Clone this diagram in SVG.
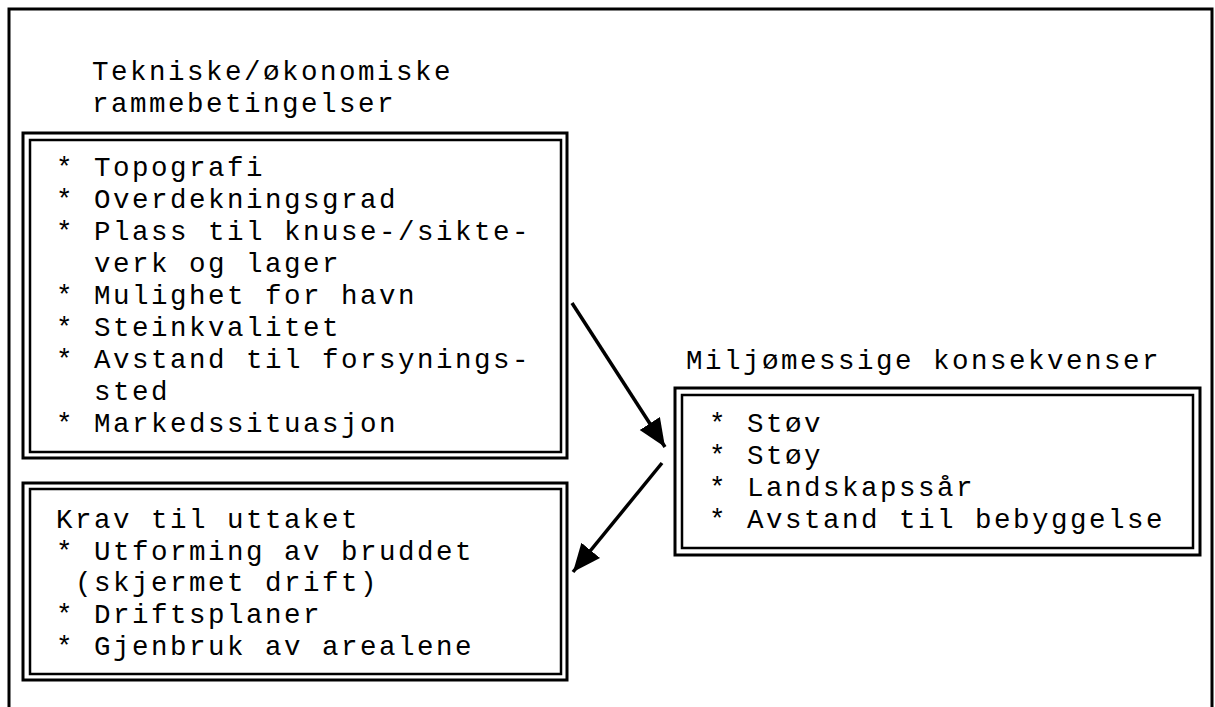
<svg xmlns="http://www.w3.org/2000/svg" width="1215" height="707" viewBox="0 0 1215 707">
<style>
  .t { font-family: "Liberation Mono", "Courier New", monospace; font-size: 27.5px; letter-spacing: 2.5px; fill: #000; }
  .o { fill: none; stroke: #000; stroke-width: 3; }
  .i { fill: none; stroke: #000; stroke-width: 2.5; }
  .c { fill: none; stroke: #000; stroke-width: 3.5; }
</style>
<defs>
  <marker id="ah" markerUnits="userSpaceOnUse" markerWidth="30" markerHeight="26" refX="28" refY="12" orient="auto">
    <path d="M0,0 L28,12 L0,24 Z" fill="#000"/>
  </marker>
</defs>
<rect width="1215" height="707" fill="#fff"/>
<path class="o" d="M9,707 V9 H1212 V707"/>

<g id="title-tek">
  <text class="t" x="92" y="80">Tekniske/økonomiske</text>
  <text class="t" x="92" y="112">rammebetingelser</text>
</g>

<g id="box-tek">
  <rect class="o" x="23" y="133" width="544" height="325"/>
  <rect class="i" x="30" y="140" width="531" height="312"/>
  <text class="t" x="56" y="176">* Topografi</text>
  <text class="t" x="56" y="208">* Overdekningsgrad</text>
  <text class="t" x="56" y="240">* Plass til knuse-/sikte-</text>
  <text class="t" x="94" y="272">verk og lager</text>
  <text class="t" x="56" y="304">* Mulighet for havn</text>
  <text class="t" x="56" y="336">* Steinkvalitet</text>
  <text class="t" x="56" y="368">* Avstand til forsynings-</text>
  <text class="t" x="94" y="400">sted</text>
  <text class="t" x="56" y="432">* Markedssituasjon</text>
</g>

<g id="box-krav">
  <rect class="o" x="23" y="483" width="544" height="197"/>
  <rect class="i" x="30" y="489" width="531" height="185"/>
  <text class="t" x="56" y="528">Krav til uttaket</text>
  <text class="t" x="56" y="560">* Utforming av bruddet</text>
  <text class="t" x="75" y="591">(skjermet drift)</text>
  <text class="t" x="56" y="623">* Driftsplaner</text>
  <text class="t" x="56" y="655">* Gjenbruk av arealene</text>
</g>

<g id="title-milj">
  <text class="t" x="686" y="369">Miljømessige konsekvenser</text>
</g>

<g id="box-milj">
  <rect class="o" x="675" y="388" width="525" height="167"/>
  <rect class="i" x="682" y="395" width="511" height="153"/>
  <text class="t" x="709" y="432">* Støv</text>
  <text class="t" x="709" y="464">* Støy</text>
  <text class="t" x="709" y="496">* Landskapssår</text>
  <text class="t" x="709" y="528">* Avstand til bebyggelse</text>
</g>

<g id="connectors">
  <line class="c" x1="572" y1="303" x2="665" y2="447" marker-end="url(#ah)"/>
  <line class="c" x1="662" y1="463" x2="573" y2="572" marker-end="url(#ah)"/>
</g>
</svg>
